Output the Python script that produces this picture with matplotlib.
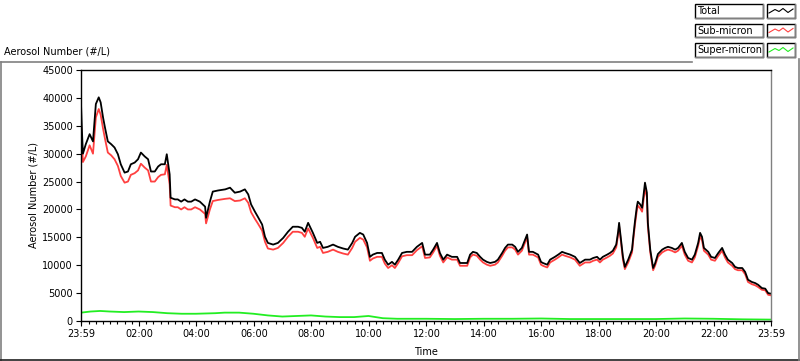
import matplotlib
matplotlib.use("Agg")
import matplotlib.pyplot as plt
from matplotlib.patches import Rectangle

# ---------------- data (minutes after 23:59 start) ----------------
t_main = [0, 2, 4, 10, 18, 25, 29, 31, 37, 41, 46, 50, 56, 63, 70, 77, 83, 91, 98, 104,
          112, 119, 125, 133, 140, 146, 154, 161, 167, 175, 179, 185, 187, 196, 202, 209,
          216, 223, 230, 238, 248, 259, 261, 269, 275, 286, 301, 311, 321, 332, 342, 349,
          355, 363, 369, 378, 384, 390, 401, 411, 422, 432, 442, 453, 461, 467, 474, 484,
          493, 499, 505, 515, 526, 536, 547, 557, 566, 572, 582, 589, 597, 603, 609, 618,
          628, 634, 641, 649, 655, 662, 670, 680, 691, 701, 712, 718, 728, 735, 743, 749,
          756, 764, 774, 785, 791, 797, 806, 812, 818, 826, 833, 839, 847, 854, 864, 870,
          879, 885, 891, 900, 906, 912, 920, 927, 931, 935, 943, 954, 960, 964, 973, 979,
          989, 996, 1004, 1010, 1021, 1031, 1041, 1052, 1062, 1069, 1077, 1083, 1089, 1098,
          1104, 1110, 1117, 1121, 1123, 1127, 1131, 1135, 1142, 1150, 1152, 1156, 1160,
          1162, 1167, 1171, 1173, 1177, 1181, 1183, 1188, 1194, 1198, 1204, 1213, 1219,
          1225, 1233, 1240, 1246, 1254, 1260, 1267, 1275, 1281, 1288, 1292, 1296, 1300,
          1309, 1315, 1323, 1330, 1338, 1344, 1350, 1359, 1365, 1371, 1380, 1386, 1392,
          1400, 1407, 1413, 1421, 1428, 1434, 1440]

total = [39000, 34000, 30000, 31700, 33500, 32200, 36500, 38900, 40100, 39200, 36500, 34700,
         32200, 31700, 31100, 29900, 28100, 26600, 26800, 28100, 28400, 29000, 30200, 29500,
         29000, 26800, 26800, 27700, 28100, 28100, 29900, 26300, 22100, 21800, 21800, 21400,
         21800, 21400, 21400, 21800, 21400, 20500, 18500, 21400, 23200, 23400, 23600, 23900,
         23000, 23200, 23600, 22700, 20900, 19600, 18700, 17300, 15100, 14000, 13700, 14000,
         14900, 16000, 16900, 16900, 16700, 16000, 17600, 15800, 14000, 14200, 13100, 13300,
         13700, 13300, 13000, 12800, 14000, 15100, 15800, 15500, 14000, 11500, 11900, 12200,
         12200, 11000, 10100, 10600, 10100, 11000, 12200, 12400, 12400, 13300, 14000, 11900,
         11900, 12800, 14000, 12200, 11000, 11900, 11500, 11500, 10400, 10400, 10400, 11900,
         12400, 12200, 11500, 11000, 10600, 10400, 10600, 11000, 12200, 13100, 13700, 13700,
         13300, 12400, 13100, 14600, 15500, 12400, 12400, 11900, 10600, 10400, 10100, 11000,
         11500, 11900, 12400, 12200, 11900, 11500, 10400, 11000, 11000, 11300, 11500, 11000,
         11500, 11900, 12200, 12600, 13700, 16000, 17600, 14600, 11500, 9700, 11000, 12800,
         14600, 17800, 20500, 21400, 20900, 20300, 21800, 24800, 23000, 17600, 12800, 9500,
         10300, 12000, 12800, 13100, 13300, 13100, 12800, 13100, 14000, 12400, 11300, 11000,
         11900, 14000, 15800, 15100, 13100, 12400, 11500, 11300, 12200, 13100, 11900, 11000,
         10400, 9700, 9500, 9500, 8800, 7400, 7000, 6800, 6500, 5900, 5800, 5000, 4900]

sub_micron = [35500, 32000, 28500, 29500, 31500, 30000, 34500, 36500, 38000, 37000, 34500, 32700,
              30200, 29700, 29000, 27800, 26000, 24800, 25000, 26200, 26500, 27000, 28200, 27500,
              27000, 25000, 25000, 25800, 26200, 26300, 28000, 24500, 20700, 20400, 20400, 20000,
              20400, 20000, 20000, 20400, 20000, 19200, 17500, 20000, 21500, 21700, 21900, 22000,
              21500, 21600, 22000, 21200, 19500, 18300, 17500, 16200, 14200, 13000, 12800, 13100,
              14000, 15100, 16000, 16000, 15800, 15100, 16600, 14900, 13100, 13300, 12200, 12400,
              12800, 12400, 12100, 11900, 13100, 14200, 14900, 14600, 13200, 10800, 11200, 11500,
              11500, 10300, 9500, 10000, 9500, 10400, 11600, 11800, 11800, 12700, 13400, 11300,
              11400, 12300, 13500, 11700, 10500, 11400, 11000, 11000, 9900, 9900, 9900, 11400,
              11900, 11700, 11000, 10500, 10100, 9900, 10100, 10500, 11700, 12600, 13200, 13200,
              12800, 11900, 12600, 14100, 15000, 11900, 11900, 11400, 10100, 9900, 9600, 10500,
              11000, 11400, 11900, 11700, 11400, 11000, 9900, 10500, 10500, 10800, 11000, 10500,
              11000, 11400, 11700, 12100, 13200, 15500, 17000, 14100, 11000, 9300, 10500, 12300,
              14100, 17200, 19800, 20700, 20200, 19600, 21000, 23800, 22200, 17000, 12300, 9100,
              9900, 11500, 12300, 12600, 12800, 12600, 12300, 12600, 13500, 11900, 10800, 10500,
              11400, 13500, 15200, 14500, 12600, 11900, 11000, 10800, 11700, 12600, 11400, 10500,
              9900, 9300, 9100, 9100, 8400, 7000, 6600, 6400, 6100, 5600, 5500, 4700, 4600]

t_super = [0, 20, 40, 60, 90, 120, 150, 180, 210, 240, 280, 300, 330, 360, 390, 420, 450, 480,
           510, 540, 570, 600, 630, 660, 720, 780, 840, 900, 960, 1020, 1080, 1140, 1200, 1260,
           1320, 1380, 1440]
super_micron = [1500, 1700, 1800, 1700, 1600, 1700, 1600, 1400, 1300, 1300, 1400, 1500, 1500,
                1300, 1000, 800, 900, 1000, 800, 700, 700, 900, 500, 400, 400, 350, 400, 400,
                450, 350, 350, 350, 350, 450, 400, 300, 250]

x_tick_labels = ["23:59", "02:00", "04:00", "06:00", "08:00", "10:00", "12:00",
                 "14:00", "16:00", "18:00", "20:00", "22:00", "23:59"]
y_ticks = [0, 5000, 10000, 15000, 20000, 25000, 30000, 35000, 40000, 45000]
series_names = ["Total", "Sub-micron", "Super-micron"]
series_colors = ["#000000", "#FF4040", "#22EE22"]


def to_minutes(label, idx):
    h, m = map(int, label.split(":"))
    if idx == 0:
        return 0
    mins = h * 60 + m + 1  # minutes after 23:59
    return mins if mins <= 1440 else mins - 1440


x_tick_pos = [to_minutes(l, i) for i, l in enumerate(x_tick_labels)]
x_tick_pos[-1] = 1440

# ---------------- figure ----------------
W, H = 800, 361
fig = plt.figure(figsize=(W / 100, H / 100), dpi=100)
fig.patch.set_facecolor("white")

# overlay in pixel coordinates
ov = fig.add_axes([0, 0, 1, 1])
ov.set_xlim(0, W)
ov.set_ylim(H, 0)
ov.axis("off")

gray = "#808080"
ov.plot([0.5, 692], [61.5, 61.5], color=gray, lw=1.2)
ov.plot([0.5, 0.5], [61.5, 361], color=gray, lw=1.2)
ov.plot([0, 800], [360.3, 360.3], color="#202020", lw=1.2)
ov.plot([799.3, 799.3], [59, 361], color=gray, lw=1.2)

fs = 7
ov.text(4, 52, "Aerosol Number (#/L)", fontsize=fs, ha="left", va="center")
ov.text(33, 195.5, "Aerosol Number (#/L)", fontsize=fs, ha="center", va="center",
        rotation=90)
ov.text(426, 352, "Time", fontsize=fs, ha="center", va="center")

# legend
rows_y = [4, 23.5, 43]
for name, col, ry in zip(series_names, series_colors, rows_y):
    ov.add_patch(Rectangle((695, ry), 68, 13.5, facecolor="white", edgecolor="black", lw=1))
    ov.plot([695, 763], [ry + 13.5, ry + 13.5], color=gray, lw=1)
    ov.plot([763, 763], [ry, ry + 13.5], color=gray, lw=1)
    ov.text(697, ry + 7, name, fontsize=fs, ha="left", va="center")
    ov.add_patch(Rectangle((767, ry), 28, 13.5, facecolor="white", edgecolor="black", lw=1))
    ov.plot([795, 795], [ry, ry + 13.5], color=gray, lw=1)
    ov.plot([767, 795], [ry + 13.5, ry + 13.5], color=gray, lw=1)
    zx = [769, 775, 779, 783, 788, 793]
    zy = [ry + 9, ry + 5.5, ry + 7.5, ry + 4.5, ry + 8.5, ry + 5]
    ov.plot(zx, zy, color=col, lw=0.8)

# main plot
ax = fig.add_axes([81 / W, 1 - 321 / H, (771 - 81) / W, (321 - 70) / H])
ax.plot(t_main, sub_micron, color=series_colors[1], lw=1.3)
ax.plot(t_main, total, color=series_colors[0], lw=1.3)
ax.plot(t_super, super_micron, color=series_colors[2], lw=1.3)

ax.set_xlim(0, 1440)
ax.set_ylim(0, 45000)
ax.set_yticks(y_ticks)
ax.set_yticklabels([str(v) for v in y_ticks])
ax.set_xticks(x_tick_pos)
ax.set_xticklabels(x_tick_labels)
ax.set_xticks([m for m in range(1, 1440, 15)], minor=True)
ax.tick_params(axis="both", labelsize=fs, length=3.8, width=0.8, pad=2, direction="out")
ax.tick_params(axis="x", which="minor", length=2.2, width=0.8)
ax.tick_params(axis="y", which="minor", left=False)
for s in ["top", "left", "bottom"]:
    ax.spines[s].set_color("black")
    ax.spines[s].set_linewidth(1.0)
ax.spines["right"].set_color(gray)
ax.spines["right"].set_linewidth(1.0)

fig.savefig("out.png", dpi=100)
